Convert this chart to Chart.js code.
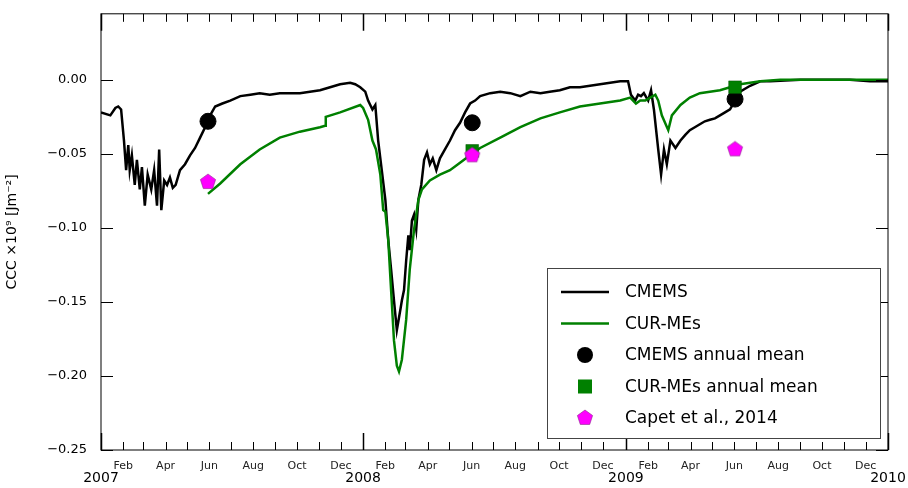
<!DOCTYPE html>
<html><head><meta charset="utf-8">
<script src="https://cdn.jsdelivr.net/npm/chart.js@4"></script>
<style>body{margin:0;background:#fff}#wrap{width:908px;height:488px}</style>
</head><body><div id="wrap"><canvas id="c"></canvas></div>
<script>
// x = days since 2007-01-01
const cmemsDays = [0,13,20,24,28,32,35,38,40,43,47,50,54,57,61,65,70,74,78,81,84,88,92,96,100,104,110,117,124,131,138,145,152,159,169,180,194,208,221,235,249,263,277,291,305,319,333,347,354,361,368,372,378,382,386,391,396,400,404,408,412,417,419,422,425,428,430,433,436,439,442,446,450,454,458,462,467,472,479,486,493,500,507,514,521,528,542,556,570,584,598,612,625,639,653,667,681,695,709,723,734,738,744,748,752,756,762,766,770,776,780,784,788,793,800,807,814,820,827,834,841,848,855,862,869,876,883,890,904,918,932,974,1043,1071,1096];
const cmemsVals = [-0.022,-0.024,-0.019,-0.018,-0.020,-0.041,-0.061,-0.044,-0.061,-0.051,-0.071,-0.054,-0.074,-0.059,-0.085,-0.064,-0.074,-0.061,-0.085,-0.047,-0.088,-0.068,-0.071,-0.066,-0.073,-0.071,-0.061,-0.057,-0.051,-0.046,-0.039,-0.032,-0.024,-0.018,-0.016,-0.014,-0.011,-0.010,-0.009,-0.010,-0.009,-0.009,-0.009,-0.008,-0.007,-0.005,-0.003,-0.002,-0.003,-0.005,-0.008,-0.014,-0.020,-0.017,-0.041,-0.061,-0.081,-0.108,-0.128,-0.149,-0.169,-0.155,-0.149,-0.142,-0.122,-0.105,-0.115,-0.095,-0.091,-0.101,-0.081,-0.071,-0.054,-0.049,-0.057,-0.053,-0.061,-0.053,-0.047,-0.041,-0.034,-0.029,-0.022,-0.016,-0.014,-0.011,-0.009,-0.008,-0.009,-0.011,-0.008,-0.009,-0.008,-0.007,-0.005,-0.005,-0.004,-0.003,-0.002,-0.001,-0.001,-0.010,-0.014,-0.010,-0.011,-0.009,-0.014,-0.007,-0.020,-0.047,-0.064,-0.047,-0.057,-0.041,-0.046,-0.041,-0.037,-0.034,-0.032,-0.030,-0.028,-0.027,-0.026,-0.024,-0.022,-0.020,-0.014,-0.008,-0.004,-0.001,-0.001,0,0,-0.001,-0.001];
const curDays = [149,166,194,221,249,277,305,312,313,333,361,365,372,378,383,389,393,396,400,404,408,412,415,419,425,430,436,442,447,458,472,486,500,514,528,556,584,612,639,667,695,723,737,745,751,758,765,772,776,781,790,795,807,820,834,862,890,918,946,1096];
const curVals = [-0.077,-0.070,-0.057,-0.047,-0.039,-0.035,-0.032,-0.031,-0.025,-0.022,-0.017,-0.019,-0.027,-0.041,-0.047,-0.064,-0.088,-0.089,-0.108,-0.142,-0.176,-0.193,-0.197,-0.189,-0.162,-0.128,-0.101,-0.081,-0.074,-0.068,-0.064,-0.061,-0.056,-0.051,-0.046,-0.039,-0.032,-0.026,-0.022,-0.018,-0.016,-0.014,-0.012,-0.016,-0.014,-0.014,-0.012,-0.010,-0.014,-0.024,-0.034,-0.024,-0.017,-0.012,-0.009,-0.007,-0.003,-0.001,0,0];
const meanDays = [149,517,883];
const cmemsMean = [-0.028,-0.029,-0.013];
const curMean = [null,-0.048,-0.005];
const capet = [-0.069,-0.051,-0.047];
const monthStarts = [0,31,59,90,120,151,181,212,243,273,304,334];
const monthNames = ["Jan","Feb","Mar","Apr","May","Jun","Jul","Aug","Sep","Oct","Nov","Dec"];
const yearStarts = [0,365,731,1096];
const years = ["2007","2008","2009","2010"];
const yTicks = [0,-0.05,-0.10,-0.15,-0.20,-0.25];

const FONT = "'DejaVu Sans', sans-serif";
const zip = (xs, ys) => xs.map((x, i) => ({ x, y: ys[i] }));

function pentagon(r) {
  const c = document.createElement("canvas");
  c.width = c.height = r * 2 + 2;
  const g = c.getContext("2d");
  g.beginPath();
  for (let i = 0; i < 5; i++) {
    const a = -Math.PI / 2 + i * 2 * Math.PI / 5;
    g.lineTo(r + 1 + r * Math.cos(a), r + 1 + r * Math.sin(a));
  }
  g.closePath();
  g.fillStyle = "#ff00ff"; g.fill();
  g.strokeStyle = "#8a2a8a"; g.lineWidth = 0.6; g.stroke();
  return c;
}
const penta = pentagon(8);

const xTickVals = [];
for (let y = 0; y < 3; y++) monthStarts.forEach(m => xTickVals.push(yearStarts[y] + m));
xTickVals.push(1096);

/* frame + inward ticks + year labels + legend */
const frame = {
  id: "frame",
  afterDraw(chart) {
    const { ctx, chartArea: a, scales: { x, y } } = chart;
    ctx.save();
    ctx.strokeStyle = "#000"; ctx.lineWidth = 1;
    ctx.strokeRect(a.left, a.top, a.right - a.left, a.bottom - a.top);
    xTickVals.forEach(v => {
      const px = Math.round(x.getPixelForValue(v)) + 0.5;
      const major = yearStarts.includes(v);
      ctx.lineWidth = major ? 1.5 : 1;
      const l = major ? 17 : 8;
      ctx.beginPath();
      ctx.moveTo(px, a.bottom); ctx.lineTo(px, a.bottom - l);
      ctx.moveTo(px, a.top); ctx.lineTo(px, a.top + l);
      ctx.stroke();
    });
    ctx.lineWidth = 1;
    yTicks.forEach(v => {
      const py = Math.round(y.getPixelForValue(v)) + 0.5;
      ctx.beginPath();
      ctx.moveTo(a.left, py); ctx.lineTo(a.left + 12, py);
      ctx.moveTo(a.right, py); ctx.lineTo(a.right - 12, py);
      ctx.stroke();
    });
    ctx.fillStyle = "#000"; ctx.font = "14px " + FONT;
    ctx.textAlign = "center"; ctx.textBaseline = "middle";
    yearStarts.forEach((v, i) => ctx.fillText(years[i], x.getPixelForValue(v), a.bottom + 28));
    ctx.textAlign = "left";
    const lx = 547, ly = 268, lw = 333, lh = 170;
    ctx.fillStyle = "#fff"; ctx.fillRect(lx, ly, lw, lh);
    ctx.strokeStyle = "#444"; ctx.strokeRect(lx + 0.5, ly + 0.5, lw, lh);
    ctx.font = "17px " + FONT;
    const rows = ["CMEMS", "CUR-MEs", "CMEMS annual mean", "CUR-MEs annual mean", "Capet et al., 2014"];
    rows.forEach((t, i) => {
      const cy = ly + 24 + i * 31.5, cx = lx + 38;
      if (i < 2) {
        ctx.strokeStyle = i === 0 ? "#000" : "#008000"; ctx.lineWidth = 2.5;
        ctx.beginPath(); ctx.moveTo(lx + 14, cy); ctx.lineTo(lx + 62, cy); ctx.stroke();
      } else if (i === 2) {
        ctx.fillStyle = "#000"; ctx.beginPath(); ctx.arc(cx, cy, 8, 0, Math.PI * 2); ctx.fill();
      } else if (i === 3) {
        ctx.fillStyle = "#008000"; ctx.fillRect(cx - 7, cy - 7, 14, 14);
      } else {
        ctx.drawImage(penta, cx - 9, cy - 9);
      }
      ctx.fillStyle = "#000";
      ctx.fillText(t, lx + 78, cy + 1);
    });
    ctx.restore();
  }
};

new Chart(document.getElementById("c"), {
  type: "scatter",
  data: {
    datasets: [
      { label: "CMEMS", data: zip(cmemsDays, cmemsVals), showLine: true, borderColor: "#000", borderWidth: 2.5, pointRadius: 0, order: 3 },
      { label: "CUR-MEs", data: zip(curDays, curVals), showLine: true, borderColor: "#008000", borderWidth: 2.5, pointRadius: 0, order: 2 },
      { label: "CMEMS annual mean", data: zip(meanDays, cmemsMean), pointStyle: "circle", pointRadius: 8, backgroundColor: "#000", borderColor: "#000", order: 1 },
      { label: "CUR-MEs annual mean", data: zip(meanDays, curMean), pointStyle: "rect", pointRadius: 9, backgroundColor: "#008000", borderColor: "#005000", borderWidth: 0.5, order: 0 },
      { label: "Capet et al., 2014", data: zip(meanDays, capet), pointStyle: penta, order: -1 },
    ],
  },
  options: {
    responsive: true, maintainAspectRatio: false, animation: false,
    layout: { padding: { top: 0, right: 20, left: 4, bottom: 0 } },
    plugins: { legend: { display: false }, tooltip: { enabled: false } },
    scales: {
      x: {
        type: "linear", min: 0, max: 1096,
        afterBuildTicks: s => { s.ticks = xTickVals.map(v => ({ value: v })); },
        afterFit: s => { s.height = 38; },
        grid: { display: false }, border: { display: false },
        ticks: {
          autoSkip: false, maxRotation: 0, padding: 2, color: "#222",
          font: { family: FONT, size: 11 },
          callback: v => {
            if (yearStarts.includes(v)) return "";
            const m = monthStarts.indexOf(v - yearStarts[v >= 731 ? 2 : v >= 365 ? 1 : 0]);
            return m % 2 === 1 ? monthNames[m] : "";
          },
        },
      },
      y: {
        min: -0.25, max: 0.0446,
        afterBuildTicks: s => { s.ticks = yTicks.map(v => ({ value: v })); },
        afterFit: s => { s.width = 97; },
        grid: { display: false }, border: { display: false },
        title: { display: true, text: "CCC ×10⁹ [Jm⁻²]", font: { family: FONT, size: 14 }, color: "#000", padding: 0 },
        ticks: { color: "#000", font: { family: FONT, size: 13 }, padding: 6, callback: v => (v === 0 ? "0.00" : "−" + Math.abs(v).toFixed(2)) },
      },
    },
  },
  plugins: [frame],
});
</script></body></html>
